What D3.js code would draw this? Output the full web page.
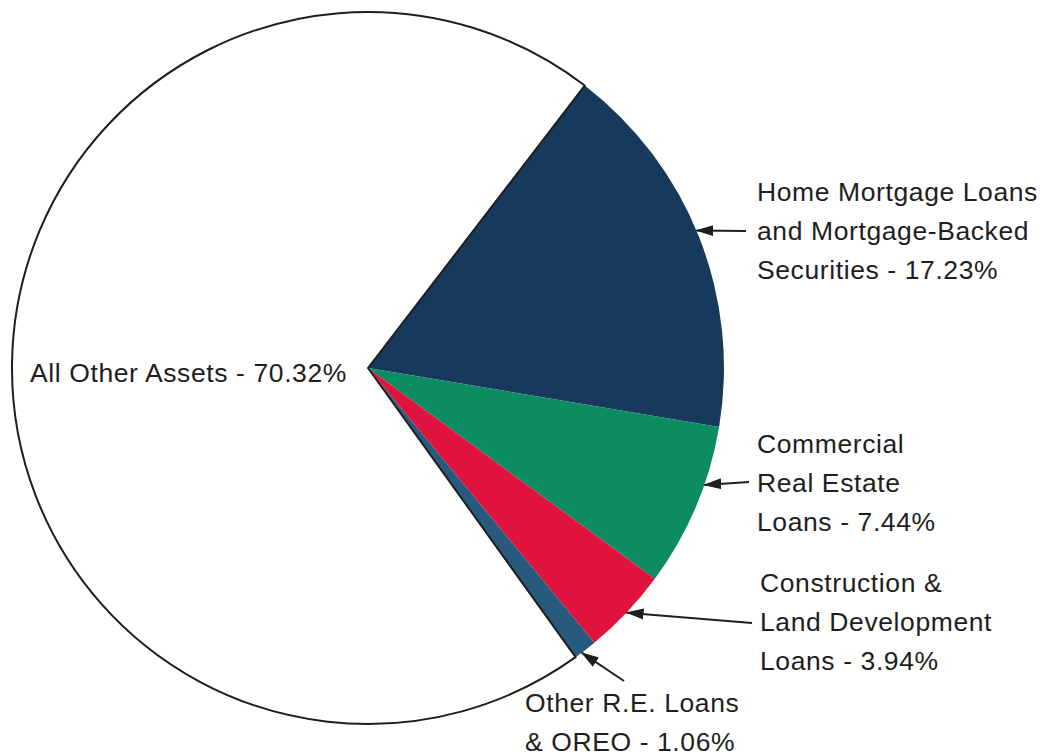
<!DOCTYPE html>
<html>
<head>
<meta charset="utf-8">
<script src="https://cdn.jsdelivr.net/npm/d3@7"></script>
<style>
  body { margin: 0; background: #fff; }
  text { font-family: "Liberation Sans", Arial, sans-serif; fill: #1e1e1e; }
</style>
</head>
<body>
<div id="chart"></div>
<script>
// slice data, clockwise starting from the home mortgage slice
var categories = ["Home Mortgage Loans and Mortgage-Backed Securities",
                  "Commercial Real Estate Loans",
                  "Construction & Land Development Loans",
                  "Other R.E. Loans & OREO",
                  "All Other Assets"];
var shares = [17.23, 7.44, 3.94, 1.06, 70.32];
var sliceColors = ["#173a5c", "#0b8c63", "#e0123e", "#285a7e", "#ffffff"];

// label text lines
var labelLines = [["Home Mortgage Loans", "and Mortgage-Backed", "Securities - 17.23%"],
                  ["Commercial", "Real Estate", "Loans - 7.44%"],
                  ["Construction &", "Land Development", "Loans - 3.94%"],
                  ["Other R.E. Loans", "& OREO - 1.06%"],
                  ["All Other Assets - 70.32%"]];

var width = 1049, height = 756;
var cx = 368, cy = 368, radius = 356;
var startDeg = 37.5;

var svg = d3.select("#chart")
  .append("svg")
    .attr("width", width)
    .attr("height", height);

// arrow head, tip sits on the line's start point
svg.append("defs").append("marker")
    .attr("id", "head")
    .attr("viewBox", "0 0 18 12")
    .attr("refX", 17)
    .attr("refY", 6)
    .attr("markerWidth", 18)
    .attr("markerHeight", 12)
    .attr("markerUnits", "userSpaceOnUse")
    .attr("orient", "auto-start-reverse")
  .append("path")
    .attr("d", "M18,6 L0,0.5 L0,11.5 Z")
    .attr("fill", "#1e1e1e");

var data = shares.map(function(v, i) { return {name: categories[i], value: v, idx: i}; });

var pie = d3.pie()
    .sort(null)
    .value(function(d) { return d.value; })
    .startAngle(startDeg * Math.PI / 180)
    .endAngle(startDeg * Math.PI / 180 + 2 * Math.PI);

var arcs = pie(data);

var arc = d3.arc().innerRadius(0).outerRadius(radius);

var g = svg.append("g")
    .attr("transform", "translate(" + cx + "," + cy + ")");

g.selectAll("path.slice")
  .data(arcs)
  .enter()
  .append("path")
    .attr("class", "slice")
    .attr("d", arc)
    .attr("fill", function(d) { return sliceColors[d.index]; })
    .attr("stroke", function(d) { return d.index == 4 ? "#1e1e1e" : "none"; })
    .attr("stroke-width", 2)
    .attr("stroke-linejoin", "round");

// label settings: where the text sits and where along the slice the arrow points
var labelPos = [{x: 757, y: 191, tail: [746, 231], frac: 0.48},
                {x: 757, y: 443, tail: [749, 482], frac: 0.36},
                {x: 760, y: 582, tail: [752, 623], frac: 0.5},
                {x: 525, y: 702, tail: [624, 681], frac: 0.68},
                {x: 30,  y: 372}];
var lineGap = 39;

labelPos.forEach(function(p, i) {
  var t = svg.append("text")
      .attr("x", p.x)
      .attr("y", p.y)
      .style("font-size", "26.5px")
      .style("letter-spacing", "0.6px");
  labelLines[i].forEach(function(line, k) {
    t.append("tspan")
      .attr("x", p.x)
      .attr("y", p.y + k * lineGap)
      .attr("dy", "0.36em")
      .text(line);
  });

  if (p.tail) {
    var a = arcs[i];
    var ang = a.startAngle + (a.endAngle - a.startAngle) * p.frac;
    var tipX = cx + radius * Math.sin(ang);
    var tipY = cy - radius * Math.cos(ang);
    svg.append("line")
      .attr("x1", tipX)
      .attr("y1", tipY)
      .attr("x2", p.tail[0])
      .attr("y2", p.tail[1])
      .attr("stroke", "#1e1e1e")
      .attr("stroke-width", 2)
      .attr("marker-start", "url(#head)");
  }
});
</script>
</body>
</html>
